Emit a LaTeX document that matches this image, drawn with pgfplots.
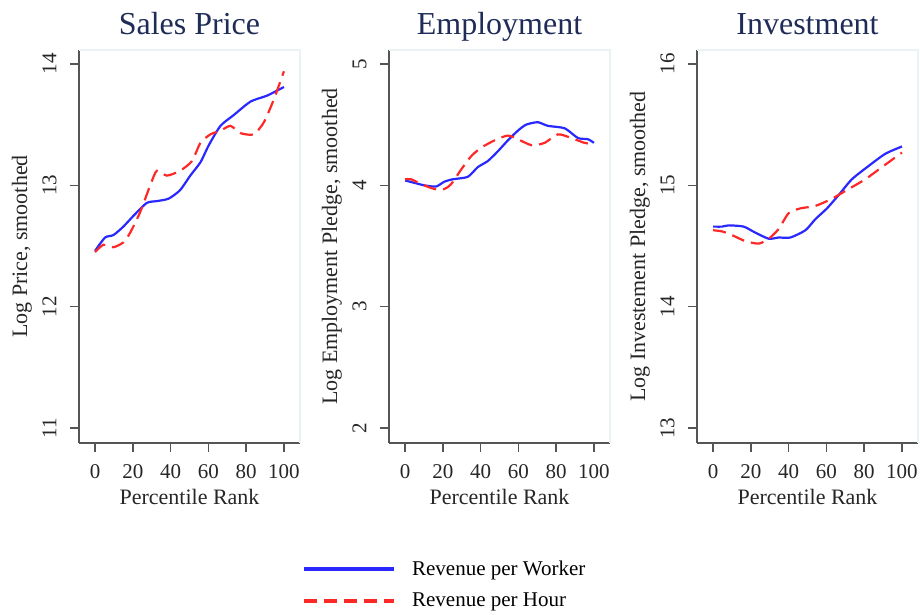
\documentclass[border=0pt]{standalone}
\usepackage{pgfplots}
\pgfplotsset{compat=1.18}
\usepackage{fontspec}
\setmainfont{Liberation Serif}
\definecolor{navy}{RGB}{32,44,88}
\definecolor{axgray}{RGB}{85,85,85}
\definecolor{faint}{RGB}{234,242,243}
\definecolor{sblue}{RGB}{40,40,255}
\definecolor{sred}{RGB}{255,40,40}
\pgfplotsset{
  panel/.style={
    scale only axis, width=221pt, height=393pt,
    xmin=-8.5, xmax=108.5,
    axis x line*=bottom, axis y line*=left,
    axis line style={axgray, line width=1.6pt},
    every tick/.style={axgray, line width=1.4pt},
    tick align=outside, major tick length=9pt,
    xtick={0,20,...,100},
    xticklabel shift=9pt, yticklabel shift=10pt,
    /pgf/number format/assume math mode=true,
    tick label style={font=\fontsize{21}{23}\selectfont, text=black!85},
    yticklabel style={rotate=90, anchor=south},
    label style={font=\fontsize{22}{24}\selectfont, text=black!85},
    xlabel={Percentile Rank},
    xlabel style={at={(axis description cs:0.5,0)}, yshift=-54pt, anchor=center},
    ylabel style={at={(axis description cs:-0.258,0.5)}, anchor=center},
    title style={at={(axis description cs:0.5,1)}, anchor=base, yshift=9pt, font=\fontsize{32}{36}\selectfont, text=navy},
    after end axis/.code={\draw[faint, line width=1.2pt] (rel axis cs:0,1) -- (rel axis cs:1,1) -- (rel axis cs:1,0);},
  },
  wk/.style={sblue, line width=2.2pt, smooth, tension=0.4},
  hr/.style={sred, line width=2.2pt, dash pattern=on 13pt off 7pt, smooth, tension=0.4},
}
\begin{document}
\begin{tikzpicture}[x=1pt,y=1pt]
\path[use as bounding box] (0,0) rectangle (920,-615);
% Panel 1
\begin{axis}[panel, at={(79pt,-443pt)}, anchor=south west,
  ymin=10.877, ymax=14.115, ytick={11,12,13,14},
  title={Sales Price}, ylabel={Log Price, smoothed}]
\addplot[wk] coordinates {(0,12.46) (5.3,12.57) (9.7,12.59) (15,12.66) (20.4,12.75) (27.4,12.855) (32.7,12.87) (38.9,12.89) (45,12.96) (50.4,13.08) (55.8,13.19) (60.2,13.33) (66.4,13.49) (73.5,13.58) (82.3,13.69) (91.2,13.74) (100,13.81)};
\addplot[hr] coordinates {(0,12.45) (4.4,12.51) (9.7,12.49) (15,12.53) (18.6,12.61) (23.9,12.78) (29.2,13.0) (32.7,13.12) (38,13.08) (45,13.12) (51.3,13.2) (55.8,13.35) (61.1,13.42) (66.4,13.45) (71.7,13.49) (77,13.43) (84,13.42) (89.4,13.52) (94.7,13.71) (100,13.94)};
\end{axis}
% Panel 2
\begin{axis}[panel, at={(389pt,-443pt)}, anchor=south west,
  ymin=1.877, ymax=5.115, ytick={2,3,4,5},
  title={Employment}, ylabel={Log Employment Pledge, smoothed}]
\addplot[wk] coordinates {(0,4.04) (5,4.02) (10.2,4.0) (16.4,3.99) (20.8,4.03) (25.3,4.05) (33.2,4.07) (38.5,4.15) (43.8,4.2) (49.1,4.28) (54.4,4.37) (59.7,4.45) (64.1,4.5) (70.3,4.52) (75.6,4.49) (84.5,4.47) (91.5,4.39) (96.8,4.38) (100,4.35)};
\addplot[hr] coordinates {(0,4.05) (3.2,4.05) (8.5,4.01) (15.5,3.97) (20.8,3.97) (24.4,4.01) (29.7,4.13) (35,4.24) (40.3,4.31) (47.3,4.37) (54.4,4.41) (59.7,4.38) (67.1,4.33) (73.9,4.35) (80.9,4.42) (88,4.39) (95,4.35) (100,4.34)};
\end{axis}
% Panel 3
\begin{axis}[panel, at={(697pt,-443pt)}, anchor=south west,
  ymin=12.877, ymax=16.115, ytick={13,14,15,16},
  title={Investment}, ylabel={Log Investement Pledge, smoothed},
  legend style={at={(axis description cs:-1.785,-0.295)}, anchor=north west, draw=none, fill=none,
    font=\fontsize{21}{24}\selectfont, row sep=12pt, inner sep=0pt,
    /tikz/every odd column/.append style={column sep=14pt}},
  legend cell align=left,
  legend image code/.code={\draw[#1, line width=3.4pt, dash phase=0pt] (0pt,0pt) -- (90pt,0pt);}]
\addplot[wk] coordinates {(0,14.66) (4.8,14.66) (8.3,14.67) (16.2,14.66) (22.4,14.61) (29.5,14.56) (34.7,14.57) (40.9,14.57) (48.9,14.63) (54.1,14.72) (60.3,14.81) (66.5,14.92) (73.5,15.05) (82.4,15.16) (91.2,15.26) (100,15.32)};
\addlegendentry{Revenue per Worker}
\addplot[hr] coordinates {(0,14.63) (4.8,14.62) (10,14.59) (17.1,14.54) (24.2,14.52) (29.5,14.56) (34.7,14.64) (40,14.77) (46.2,14.81) (54.1,14.83) (63,14.89) (71.8,14.97) (80.6,15.05) (89.4,15.15) (100,15.27)};
\addlegendentry{Revenue per Hour}
\end{axis}
\end{tikzpicture}
\end{document}
